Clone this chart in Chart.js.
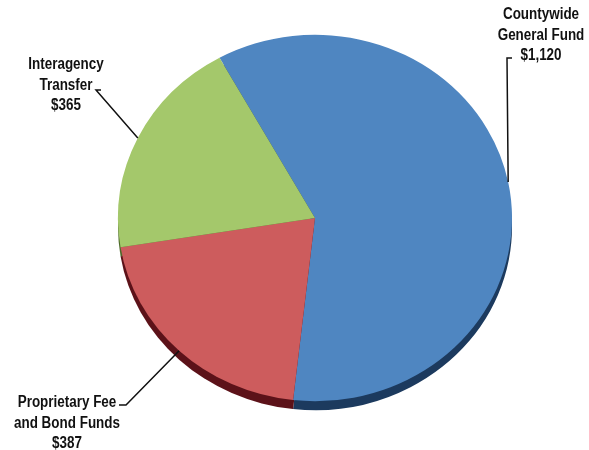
<!DOCTYPE html>
<html>
<head>
<meta charset="utf-8">
<script src="https://cdn.jsdelivr.net/npm/chart.js@4.4.1/dist/chart.umd.min.js"></script>
<style>
  html, body { margin: 0; padding: 0; background: #ffffff; }
  #wrap { width: 589px; height: 450px; position: relative; }
</style>
</head>
<body>
<div id="wrap"><canvas id="fundChart" width="589" height="450"></canvas></div>
<script>
// Funding sources (in millions)
const categories = ['Countywide General Fund', 'Proprietary Fee and Bond Funds', 'Interagency Transfer'];
const amounts = [1120, 387, 365];
const labelLines = [['Countywide', 'General Fund'], ['Proprietary Fee', 'and Bond Funds'], ['Interagency', 'Transfer']];

const faceColors = ['#4f86c1', '#cd5c5d', '#a4c86b'];
const sideColors = ['#1c3a5e', '#5c1219', '#4d6a2a'];

// where each callout sits: text centre, first line y, and the little tick the leader starts from
const callouts = [
    { x: 541, y: 15, tick: [507, 58, 512] },
    { x: 67, y: 403, tick: [126, 405, 119] },
    { x: 66, y: 65, tick: [96, 90, 101] }
];

const squash = 0.93;   // flatten the pie into an ellipse
const depth = 9;       // thickness of the pie edge

function ellipseTransform(ctx, cy) {
    ctx.translate(0, cy);
    ctx.scale(1, squash);
    ctx.translate(0, -cy);
}

const tiltPlugin = {
    id: 'tilt',
    beforeDatasetsDraw(chart) {
        const ctx = chart.ctx;
        const arcs = chart.getDatasetMeta(0).data;
        // darker copy shifted down gives the edge
        ctx.save();
        ctx.translate(0, depth);
        ellipseTransform(ctx, arcs[0].y);
        arcs.forEach((arc, i) => {
            ctx.beginPath();
            ctx.moveTo(arc.x, arc.y);
            ctx.arc(arc.x, arc.y, arc.outerRadius, arc.startAngle, arc.endAngle);
            ctx.closePath();
            ctx.fillStyle = sideColors[i];
            ctx.fill();
        });
        ctx.restore();
        ctx.save();
        ellipseTransform(ctx, arcs[0].y);
    },
    afterDatasetsDraw(chart) {
        chart.ctx.restore();
    }
};

const calloutPlugin = {
    id: 'callouts',
    afterDraw(chart) {
        const ctx = chart.ctx;
        const arcs = chart.getDatasetMeta(0).data;
        ctx.save();
        ctx.font = "bold 16px 'Liberation Sans', Arial, sans-serif";
        ctx.fillStyle = '#111111';
        ctx.textAlign = 'center';
        ctx.textBaseline = 'middle';
        arcs.forEach((arc, i) => {
            const c = callouts[i];
            const lines = labelLines[i].concat('$' + amounts[i].toLocaleString('en-US'));
            lines.forEach((t, k) => {
                // condensed look: squeeze the text sideways
                ctx.save();
                ctx.translate(c.x, c.y + k * 20.5);
                ctx.scale(0.84, 1);
                ctx.fillText(t, 0, 0);
                ctx.restore();
            });

            // leader line to the middle of the slice's rim
            const mid = (arc.startAngle + arc.endAngle) / 2;
            const ex = arc.x + arc.outerRadius * Math.cos(mid);
            const ey = arc.y + arc.outerRadius * Math.sin(mid) * squash;
            ctx.beginPath();
            ctx.moveTo(c.tick[2], c.tick[1]);
            ctx.lineTo(c.tick[0], c.tick[1]);
            ctx.lineTo(ex, ey);
            ctx.strokeStyle = '#111111';
            ctx.lineWidth = 1.5;
            ctx.stroke();
        });
        ctx.restore();
    }
};

new Chart(document.getElementById('fundChart'), {
    type: 'pie',
    data: {
        labels: categories,
        datasets: [{
            data: amounts,
            backgroundColor: faceColors,
            borderWidth: 0
        }]
    },
    options: {
        responsive: false,
        animation: false,
        rotation: -29,
        layout: { padding: { left: 118, right: 77, top: 21, bottom: 35 } },
        plugins: {
            legend: { display: false },
            tooltip: { enabled: false }
        }
    },
    plugins: [tiltPlugin, calloutPlugin]
});
</script>
</body>
</html>
